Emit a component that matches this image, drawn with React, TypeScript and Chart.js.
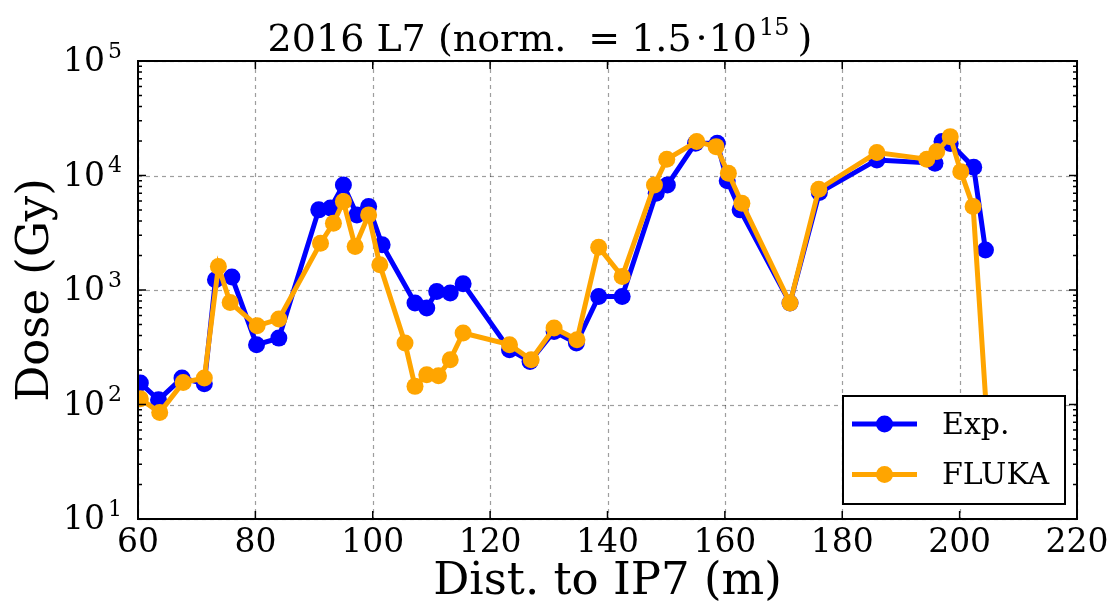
import React, { useEffect, useRef } from "react";
import { Chart, registerables } from "chart.js";

Chart.register(...registerables);

// ---- data ----
const expX = [60.4, 63.5, 67.5, 71.3, 73.2, 76.0, 80.2, 84.0, 90.8, 92.8, 95.0, 97.3, 99.3, 101.6, 107.2, 109.2, 110.9, 113.2, 115.4, 123.3, 126.8, 130.9, 134.7, 138.5, 142.5, 148.3, 150.2, 155.0, 158.7, 160.4, 162.6, 171.1, 176.1, 185.9, 195.8, 197.0, 198.4, 202.4, 204.4];
const expY = [154, 110, 170, 152, 1227, 1297, 333, 380, 5010, 5190, 8280, 4530, 5350, 2480, 769, 695, 971, 940, 1132, 301, 238, 434, 344, 877, 877, 7010, 8280, 19140, 19140, 9000, 5010, 769, 7090, 13680, 12800, 19770, 19000, 11810, 2240];

const flukaX = [60.4, 63.7, 67.7, 71.3, 73.7, 75.7, 80.3, 84.0, 91.1, 93.3, 95.0, 97.0, 99.3, 101.2, 105.5, 107.2, 109.2, 111.2, 113.2, 115.4, 123.3, 127.0, 130.9, 134.8, 138.5, 142.5, 148.0, 150.1, 155.2, 158.5, 160.6, 162.9, 171.1, 176.0, 185.9, 194.4, 196.1, 198.4, 200.2, 202.3, 205.0];
const flukaY = [112, 85, 156, 170, 1603, 778, 487, 557, 2565, 3835, 5920, 2400, 4530, 1660, 344, 144, 182, 178, 246, 421, 333, 246, 465, 367, 2366, 1312, 8280, 13870, 19770, 17870, 10470, 5730, 769, 7590, 15850, 13870, 16180, 21850, 10810, 5350, 40];

const xTicks = [60, 80, 100, 120, 140, 160, 180, 200, 220];
const yExponents = [1, 2, 3, 4, 5];
const seriesNames = ["Exp.", "FLUKA"];
const seriesColors = ["#0000ff", "#ffa500"];
const xLabel = "Dist. to IP7 (m)";
const yLabel = "Dose (Gy)";
const titleParts = ["2016 L7 (norm.", "=", "1.5", "\u00B7", "10", "15", ")"];

const SERIF = '"DejaVu Serif", serif';

const overlay = {
  id: "overlay",
  beforeDatasetsDraw(chart: any) {
    const { ctx, chartArea: a, scales } = chart;
    const x = scales.x, y = scales.y;
    ctx.save();
    ctx.strokeStyle = "rgba(0,0,0,0.38)";
    ctx.lineWidth = 1.2;
    ctx.setLineDash([4, 4]);
    for (const v of xTicks) {
      const px = Math.round(x.getPixelForValue(v)) + 0.5;
      ctx.beginPath(); ctx.moveTo(px, a.top); ctx.lineTo(px, a.bottom); ctx.stroke();
    }
    for (const e of yExponents) {
      const py = Math.round(y.getPixelForValue(Math.pow(10, e))) + 0.5;
      ctx.beginPath(); ctx.moveTo(a.left, py); ctx.lineTo(a.right, py); ctx.stroke();
    }
    ctx.restore();
  },
  afterDatasetsDraw(chart: any) {
    const { ctx, chartArea: a, scales } = chart;
    const x = scales.x, y = scales.y;
    ctx.save();
    ctx.strokeStyle = "#000";
    ctx.lineWidth = 1.5;
    for (const v of xTicks) {
      const px = x.getPixelForValue(v);
      ctx.beginPath();
      ctx.moveTo(px, a.bottom); ctx.lineTo(px, a.bottom - 8);
      ctx.moveTo(px, a.top); ctx.lineTo(px, a.top + 8);
      ctx.stroke();
    }
    for (const e of yExponents) {
      const py = y.getPixelForValue(Math.pow(10, e));
      ctx.beginPath();
      ctx.moveTo(a.left, py); ctx.lineTo(a.left + 8, py);
      ctx.moveTo(a.right, py); ctx.lineTo(a.right - 8, py);
      ctx.stroke();
      if (e < yExponents[yExponents.length - 1]) {
        for (let m = 2; m <= 9; m++) {
          const pm = y.getPixelForValue(m * Math.pow(10, e));
          ctx.beginPath();
          ctx.moveTo(a.left, pm); ctx.lineTo(a.left + 4, pm);
          ctx.moveTo(a.right, pm); ctx.lineTo(a.right - 4, pm);
          ctx.stroke();
        }
      }
    }
    ctx.lineWidth = 2;
    ctx.strokeRect(a.left, a.top, a.right - a.left, a.bottom - a.top);
    ctx.restore();
  },
  afterDraw(chart: any) {
    const { ctx, chartArea: a, scales } = chart;
    const x = scales.x, y = scales.y;
    ctx.save();
    ctx.fillStyle = "#000";
    ctx.font = `33px ${SERIF}`;
    ctx.textAlign = "center";
    ctx.textBaseline = "alphabetic";
    for (const v of xTicks) {
      ctx.fillText(String(v), x.getPixelForValue(v), a.bottom + 33);
    }
    for (const e of yExponents) {
      const py = y.getPixelForValue(Math.pow(10, e));
      ctx.font = `33px ${SERIF}`;
      ctx.textAlign = "right";
      ctx.fillText("10", a.left - 33, py + 10);
      ctx.font = `22px ${SERIF}`;
      ctx.textAlign = "left";
      ctx.fillText(String(e), a.left - 30, py - 3.5);
    }
    ctx.font = `45px ${SERIF}`;
    ctx.textAlign = "center";
    ctx.fillText(xLabel, (a.left + a.right) / 2, a.bottom + 75);
    ctx.save();
    ctx.translate(48, (a.top + a.bottom) / 2);
    ctx.rotate(-Math.PI / 2);
    ctx.fillText(yLabel, 0, 0);
    ctx.restore();

    const big = `38px ${SERIF}`, small = `24px ${SERIF}`;
    const gaps = [22, 11, 4, 1, 2, 8, 0];
    const fonts = [big, big, big, big, big, small, big];
    let total = 0;
    const widths: number[] = [];
    titleParts.forEach((t, i) => {
      ctx.font = fonts[i];
      const w = ctx.measureText(t).width;
      widths.push(w);
      total += w + gaps[i];
    });
    let cx = 540 - total / 2;
    ctx.textAlign = "left";
    const base = 51;
    titleParts.forEach((t, i) => {
      ctx.font = fonts[i];
      ctx.fillText(t, cx, i === 5 ? base - 16 : base);
      cx += widths[i] + gaps[i];
    });

    const lx0 = 843, lx1 = 1065, ly0 = 396, ly1 = 504;
    ctx.fillStyle = "#fff";
    ctx.fillRect(lx0, ly0, lx1 - lx0, ly1 - ly0);
    ctx.strokeStyle = "#000";
    ctx.lineWidth = 2;
    ctx.strokeRect(lx0, ly0, lx1 - lx0, ly1 - ly0);
    const rows = [424, 474.5];
    seriesNames.forEach((name, i) => {
      const ry = rows[i];
      ctx.strokeStyle = seriesColors[i];
      ctx.lineWidth = 5;
      ctx.beginPath(); ctx.moveTo(852, ry); ctx.lineTo(917, ry); ctx.stroke();
      ctx.fillStyle = seriesColors[i];
      ctx.beginPath(); ctx.arc(884.5, ry, 8.5, 0, Math.PI * 2); ctx.fill();
      ctx.fillStyle = "#000";
      ctx.font = `30px ${SERIF}`;
      ctx.textAlign = "left";
      ctx.fillText(name, 942, ry + 9.5);
    });
    ctx.restore();
  },
};

export default function App() {
  const ref = useRef<HTMLCanvasElement | null>(null);
  useEffect(() => {
    if (!ref.current) return;
    const mk = (xs: number[], ys: number[]) => xs.map((v, i) => ({ x: v, y: ys[i] }));
    const chart = new Chart(ref.current, {
      type: "scatter",
      data: {
        datasets: [
          {
            label: seriesNames[0],
            data: mk(expX, expY),
            showLine: true,
            borderColor: seriesColors[0],
            backgroundColor: seriesColors[0],
            borderWidth: 5,
            pointRadius: 8.5,
            pointBorderWidth: 0,
            pointHoverRadius: 8.5,
            tension: 0,
            clip: 0,
            order: 2,
          },
          {
            label: seriesNames[1],
            data: mk(flukaX, flukaY),
            showLine: true,
            borderColor: seriesColors[1],
            backgroundColor: seriesColors[1],
            borderWidth: 5,
            pointRadius: 8.5,
            pointBorderWidth: 0,
            pointHoverRadius: 8.5,
            tension: 0,
            clip: 0,
            order: 1,
          },
        ],
      } as any,
      options: {
        responsive: false,
        animation: false,
        devicePixelRatio: 1,
        events: [],
        layout: { padding: { left: 138, right: 36, top: 61, bottom: 90 } },
        plugins: {
          legend: { display: false },
          title: { display: false },
          tooltip: { enabled: false },
        },
        scales: {
          x: { type: "linear", min: 60, max: 220, display: false },
          y: { type: "logarithmic", min: 10, max: 100000, display: false },
        },
      } as any,
      plugins: [overlay],
    });
    return () => chart.destroy();
  }, []);
  return (
    <div style={{ position: "absolute", left: 0, top: 0, width: 1113, height: 609, background: "#fff" }}>
      <canvas ref={ref} width={1113} height={609} />
    </div>
  );
}
